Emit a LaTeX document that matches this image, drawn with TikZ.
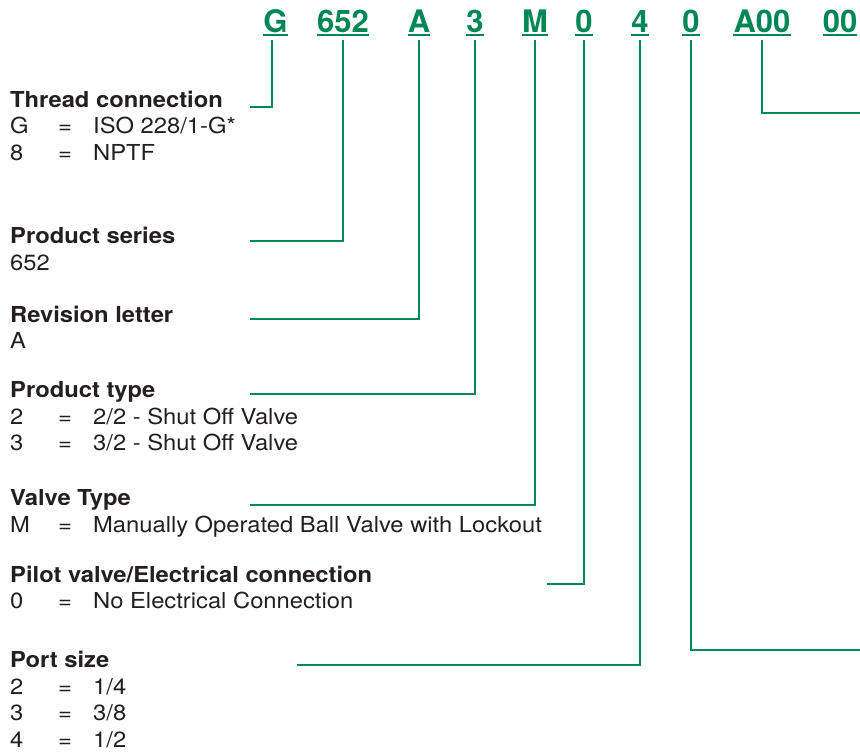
\documentclass[tikz,border=0pt]{standalone}
\usepackage{fontspec}
\setmainfont{TeX Gyre Heros}[FakeStretch=1.08]
\newfontfamily\codefont{TeX Gyre Heros}
\usetikzlibrary{positioning}
\definecolor{txtcol}{RGB}{35,31,32}
\definecolor{codecol}{RGB}{0,135,85}
\tikzset{
  hd/.style={anchor=base west,inner sep=0pt,text=txtcol,font=\fontsize{22}{26}\selectfont\bfseries},
  it/.style={anchor=base west,inner sep=0pt,text=txtcol,font=\fontsize{22}{26}\selectfont},
  cd/.style={anchor=base,inner sep=0pt,text depth=0pt,text=codecol,font=\codefont\fontsize{31}{36}\selectfont\bfseries},
  ul/.style={draw=codecol,line width=2pt},
  ld/.style={draw=codecol,line width=1.5pt}
}
\begin{document}
\begin{tikzpicture}[x=1pt,y=-1pt]
\useasboundingbox (0,0) rectangle (860,753);
% ordering code
\node[cd](cthr) at (275.5,32){G};\node[cd](cser) at (343,32){652};\node[cd](crev) at (419,32){A};
\node[cd](ctyp) at (475,32){3};\node[cd](cvlv) at (535,32){M};\node[cd](cpil) at (584,32){0};
\node[cd](cprt) at (640,32){4};\node[cd](copt) at (691,32){0};\node[cd](cvar) at (762,32){A00};
\node[cd](cend) at (840,32){00};
\foreach \n in {cthr,cser,crev,ctyp,cvlv,cpil,cprt,copt,cvar,cend}{\draw[ul]([yshift=-2.5pt]\n.base west)--([yshift=-2.5pt]\n.base east);}
% headings
\node[hd](hthr) at (10,107){Thread connection};
\node[hd](hser) at (10,243){Product series};
\node[hd](hrev) at (10,322){Revision letter};
\node[hd](htyp) at (10,397){Product type};
\node[hd](hvlv) at (10,505){Valve Type};
\node[hd](hpil) at (10,582){Pilot valve/Electrical connection};
\node[hd](hprt) at (10,667){Port size};
% entries
\node[it](vser) at (10,270){652};
\node[it](vrev) at (10,348){A};
\foreach \y/\k/\v in {133/G/{ISO 228/1-G*},160/8/NPTF,424/2/{2/2 - Shut Off Valve},450/3/{3/2 - Shut Off Valve},532/M/{Manually Operated Ball Valve with Lockout},608/0/{No Electrical Connection},694/2/{1/4},720/3/{3/8},747/4/{1/2}}{
  \node[it](k\y) at (10,\y){\k};\node[it](q\y) at (58,\y){=};\node[it](v\y) at (93,\y){\v};}
% lead lines
\coordinate (ethr) at (250,107);\coordinate (eser) at (250,241);\coordinate (erev) at (250,319);
\coordinate (etyp) at (250,394);\coordinate (evlv) at (250,505);\coordinate (epil) at (547,584);
\coordinate (eprt) at (297,665);\coordinate (eopt) at (860,650);\coordinate (evar) at (860,113);
\draw[ld]([xshift=-3.5pt,yshift=-8pt]cthr.base) |- (ethr);
\foreach \c/\e in {cser/eser,crev/erev,ctyp/etyp,cvlv/evlv,cpil/epil,cprt/eprt,copt/eopt,cvar/evar}{\draw[ld]([yshift=-8pt]\c.base) |- (\e);}
\end{tikzpicture}
\end{document}
